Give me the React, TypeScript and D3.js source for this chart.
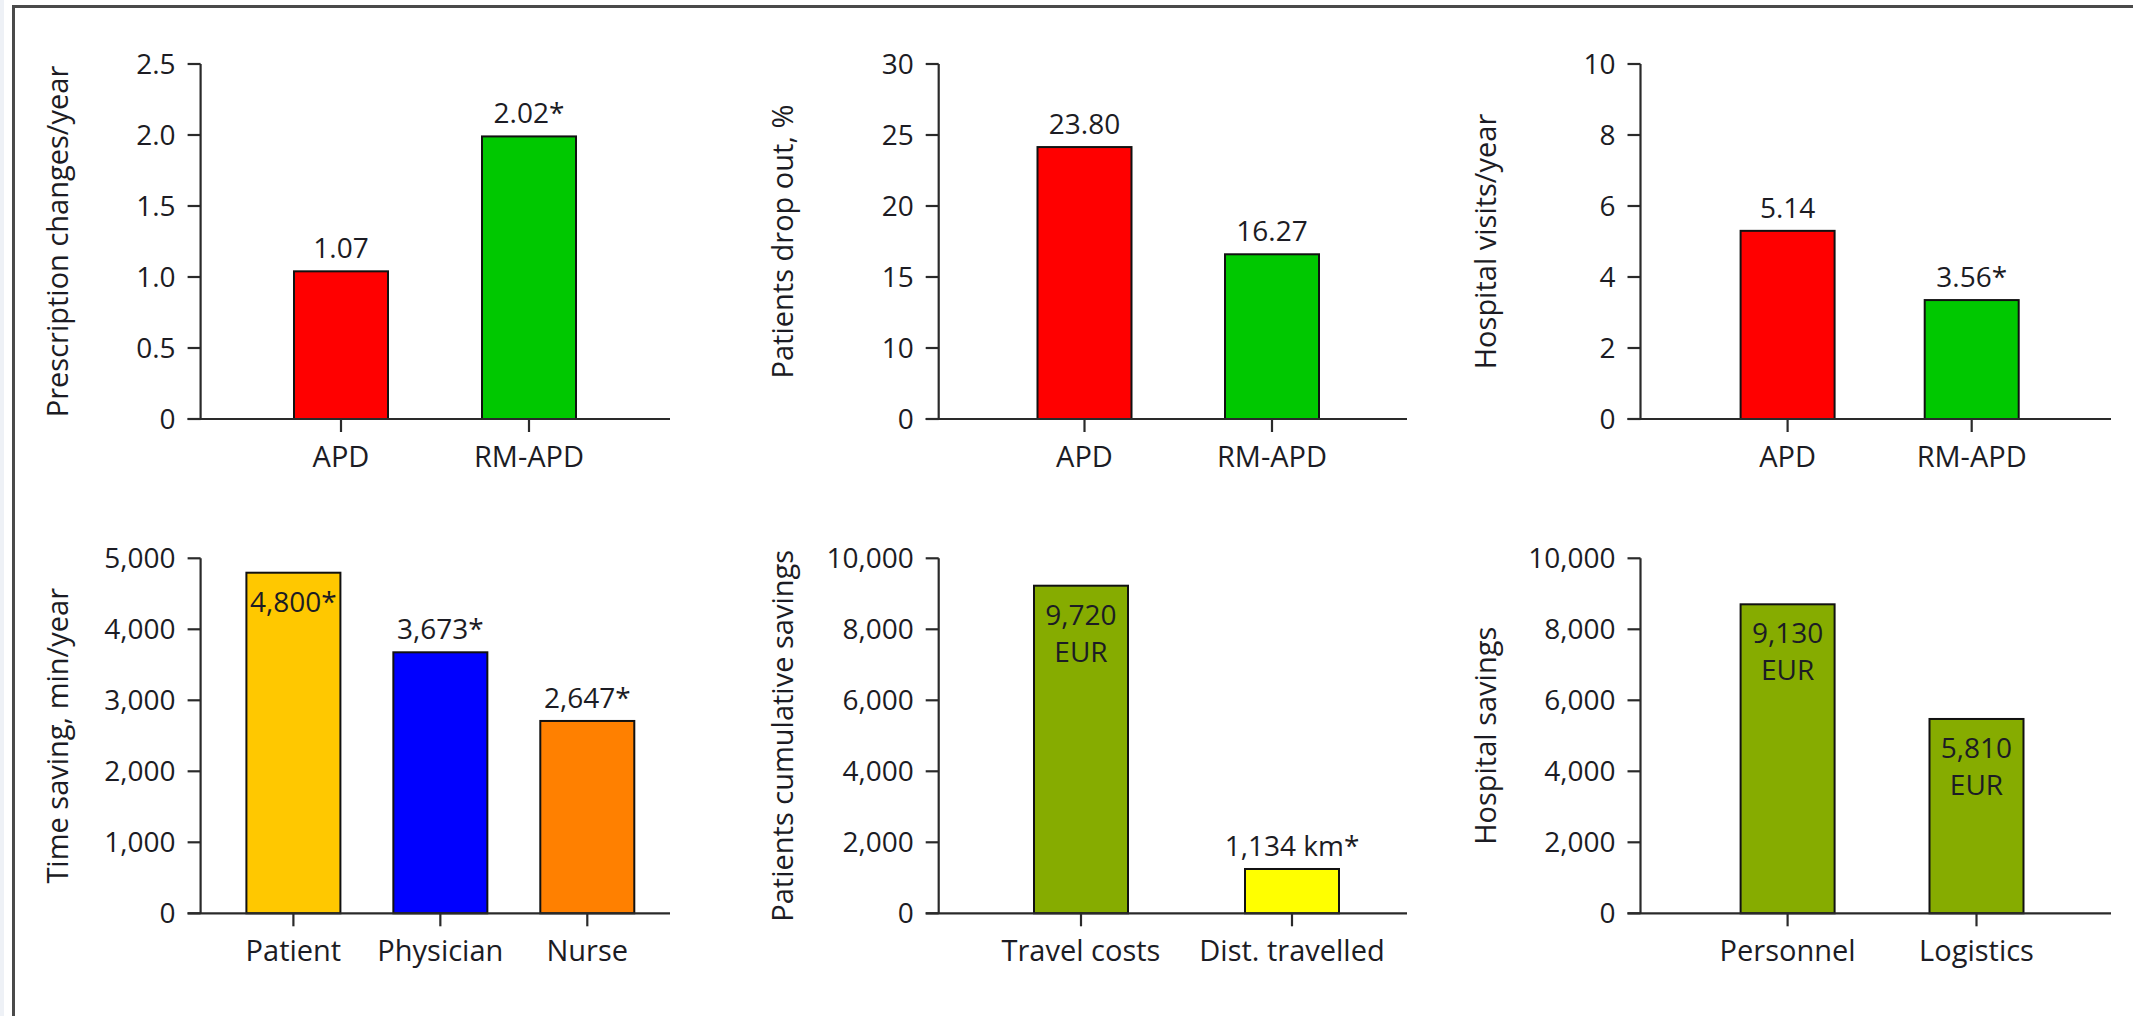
import React from "react";
import * as d3 from "d3";

// ---------- DATA ----------
const prescriptionCategories = ["APD", "RM-APD"];
const prescriptionValues = [1.04, 1.99];
const prescriptionLabels = [["1.07"], ["2.02*"]];
const prescriptionTicks = [0, 0.5, 1, 1.5, 2, 2.5];
const prescriptionTickLabels = ["0", "0.5", "1.0", "1.5", "2.0", "2.5"];

const dropoutCategories = ["APD", "RM-APD"];
const dropoutValues = [24.15, 16.6];
const dropoutLabels = [["23.80"], ["16.27"]];
const dropoutTicks = [0, 10, 15, 20, 25, 30];
const dropoutTickLabels = ["0", "10", "15", "20", "25", "30"];

const visitsCategories = ["APD", "RM-APD"];
const visitsValues = [5.3, 3.35];
const visitsLabels = [["5.14"], ["3.56*"]];
const visitsTicks = [0, 2, 4, 6, 8, 10];
const visitsTickLabels = ["0", "2", "4", "6", "8", "10"];

const timeCategories = ["Patient", "Physician", "Nurse"];
const timeValues = [4797, 3676, 2709];
const timeLabels = [["4,800*"], ["3,673*"], ["2,647*"]];
const timeTicks = [0, 1000, 2000, 3000, 4000, 5000];
const timeTickLabels = ["0", "1,000", "2,000", "3,000", "4,000", "5,000"];

const patientSavingsCategories = ["Travel costs", "Dist. travelled"];
const patientSavingsValues = [9228, 1248];
const patientSavingsLabels = [["9,720", "EUR"], ["1,134 km*"]];
const savingsTicks = [0, 2000, 4000, 6000, 8000, 10000];
const savingsTickLabels = ["0", "2,000", "4,000", "6,000", "8,000", "10,000"];

const hospitalSavingsCategories = ["Personnel", "Logistics"];
const hospitalSavingsValues = [8704, 5474];
const hospitalSavingsLabels = [["9,130", "EUR"], ["5,810", "EUR"]];

// ---------- LAYOUT / STYLE ----------
const ROWS = [
  { top: 64, bottom: 419 },
  { top: 558.3, bottom: 913.3 },
];
const FONT = "'Open Sans', 'Segoe UI', 'Noto Sans', sans-serif";
const TEXT = "#1c1c24";
const AXIS = "#2a2a2a";

type Panel = {
  title: string;
  cats: string[];
  values: number[];
  labels: string[][];
  inside: boolean[];
  colors: string[];
  ticks: number[];
  tickLabels: string[];
  domain: number[];
  row: number;
  axisX: number;
  right: number;
  firstCenter: number;
  lastCenter: number;
  titleX: number;
};

const panels: Panel[] = [
  {
    title: "Prescription changes/year",
    cats: prescriptionCategories, values: prescriptionValues, labels: prescriptionLabels,
    inside: [false, false], colors: ["#ff0000", "#00c800"],
    ticks: prescriptionTicks, tickLabels: prescriptionTickLabels, domain: [0, 2.5],
    row: 0, axisX: 200.6, right: 670, firstCenter: 341, lastCenter: 529, titleX: 68,
  },
  {
    title: "Patients drop out, %",
    cats: dropoutCategories, values: dropoutValues, labels: dropoutLabels,
    inside: [false, false], colors: ["#ff0000", "#00c800"],
    ticks: dropoutTicks, tickLabels: dropoutTickLabels, domain: [0, 10, 30],
    row: 0, axisX: 938.7, right: 1407, firstCenter: 1084.5, lastCenter: 1272, titleX: 793,
  },
  {
    title: "Hospital visits/year",
    cats: visitsCategories, values: visitsValues, labels: visitsLabels,
    inside: [false, false], colors: ["#ff0000", "#00c800"],
    ticks: visitsTicks, tickLabels: visitsTickLabels, domain: [0, 10],
    row: 0, axisX: 1640.5, right: 2111, firstCenter: 1787.6, lastCenter: 1971.7, titleX: 1496,
  },
  {
    title: "Time saving, min/year",
    cats: timeCategories, values: timeValues, labels: timeLabels,
    inside: [true, false, false], colors: ["#ffc800", "#0000ff", "#ff8000"],
    ticks: timeTicks, tickLabels: timeTickLabels, domain: [0, 5000],
    row: 1, axisX: 200.6, right: 670, firstCenter: 293.4, lastCenter: 587.3, titleX: 68,
  },
  {
    title: "Patients cumulative savings",
    cats: patientSavingsCategories, values: patientSavingsValues, labels: patientSavingsLabels,
    inside: [true, false], colors: ["#86ac00", "#ffff00"],
    ticks: savingsTicks, tickLabels: savingsTickLabels, domain: [0, 10000],
    row: 1, axisX: 938.7, right: 1407, firstCenter: 1081, lastCenter: 1292, titleX: 793,
  },
  {
    title: "Hospital savings",
    cats: hospitalSavingsCategories, values: hospitalSavingsValues, labels: hospitalSavingsLabels,
    inside: [true, true], colors: ["#86ac00", "#86ac00"],
    ticks: savingsTicks, tickLabels: savingsTickLabels, domain: [0, 10000],
    row: 1, axisX: 1640.5, right: 2111, firstCenter: 1787.6, lastCenter: 1976.5, titleX: 1496,
  },
];

const BAR_W = 94;
const TICK = 13;

function BarPanel({ p }: { p: Panel }) {
  const { top, bottom } = ROWS[p.row];
  const d = p.domain;
  const y = d3
    .scaleLinear()
    .domain(d)
    .range(
      d.length === 3
        ? [bottom, bottom - (bottom - top) / 5, top]
        : [bottom, top]
    );
  const x = d3.scalePoint<string>().domain(p.cats).range([p.firstCenter, p.lastCenter]);
  const midY = (top + bottom) / 2;

  return (
    <g>
      {/* bars */}
      {p.cats.map((c, i) => {
        const cx = x(c)!;
        const yt = y(p.values[i]);
        return (
          <rect
            key={c}
            x={cx - BAR_W / 2}
            y={yt}
            width={BAR_W}
            height={bottom - yt}
            fill={p.colors[i]}
            stroke="#111"
            strokeWidth={2}
          />
        );
      })}
      {/* y axis */}
      <line x1={p.axisX} x2={p.axisX} y1={top} y2={bottom} stroke={AXIS} strokeWidth={2.2} />
      <line x1={p.axisX - TICK} x2={p.right} y1={bottom} y2={bottom} stroke={AXIS} strokeWidth={2.2} />
      {p.ticks.map((t, i) => (
        <g key={t}>
          <line x1={p.axisX - TICK} x2={p.axisX} y1={y(t)} y2={y(t)} stroke={AXIS} strokeWidth={2.2} />
          <text
            x={p.axisX - 25}
            y={y(t) + 10}
            textAnchor="end"
            fontSize={28}
            fontFamily={FONT}
            fill={TEXT}
          >
            {p.tickLabels[i]}
          </text>
        </g>
      ))}
      {/* x ticks and category labels */}
      {p.cats.map((c) => (
        <g key={c}>
          <line x1={x(c)!} x2={x(c)!} y1={bottom} y2={bottom + TICK} stroke={AXIS} strokeWidth={2.2} />
          <text
            x={x(c)!}
            y={bottom + 48}
            textAnchor="middle"
            fontSize={29}
            fontFamily={FONT}
            fill={TEXT}
          >
            {c}
          </text>
        </g>
      ))}
      {/* value labels */}
      {p.cats.map((c, i) => {
        const cx = x(c)!;
        const yt = y(p.values[i]);
        const lines = p.labels[i];
        if (p.inside[i]) {
          return (
            <text key={c} textAnchor="middle" fontSize={28} fontFamily={FONT} fill={TEXT}>
              {lines.map((l, j) => (
                <tspan key={j} x={cx} y={yt + 39 + j * 37}>
                  {l}
                </tspan>
              ))}
            </text>
          );
        }
        return (
          <text key={c} x={cx} y={yt - 13} textAnchor="middle" fontSize={28} fontFamily={FONT} fill={TEXT}>
            {lines[0]}
          </text>
        );
      })}
      {/* y title */}
      <text
        transform={`translate(${p.titleX},${midY}) rotate(-90)`}
        textAnchor="middle"
        fontSize={29}
        fontFamily={FONT}
        fill={TEXT}
      >
        {p.title}
      </text>
    </g>
  );
}

export default function App() {
  return (
    <svg
      width={2133}
      height={1016}
      style={{ position: "absolute", left: 0, top: 0, background: "#fff" }}
    >
      <rect x={0} y={0} width={2133} height={1016} fill="#fff" />
      <rect x={0} y={0} width={4} height={1016} fill="#eef1f6" />
      {/* frame */}
      <line x1={13} x2={2133} y1={6.5} y2={6.5} stroke="#4a4a4a" strokeWidth={3} />
      <line x1={13.5} x2={13.5} y1={5} y2={1016} stroke="#4a4a4a" strokeWidth={3} />
      {panels.map((p, i) => (
        <BarPanel key={i} p={p} />
      ))}
    </svg>
  );
}
